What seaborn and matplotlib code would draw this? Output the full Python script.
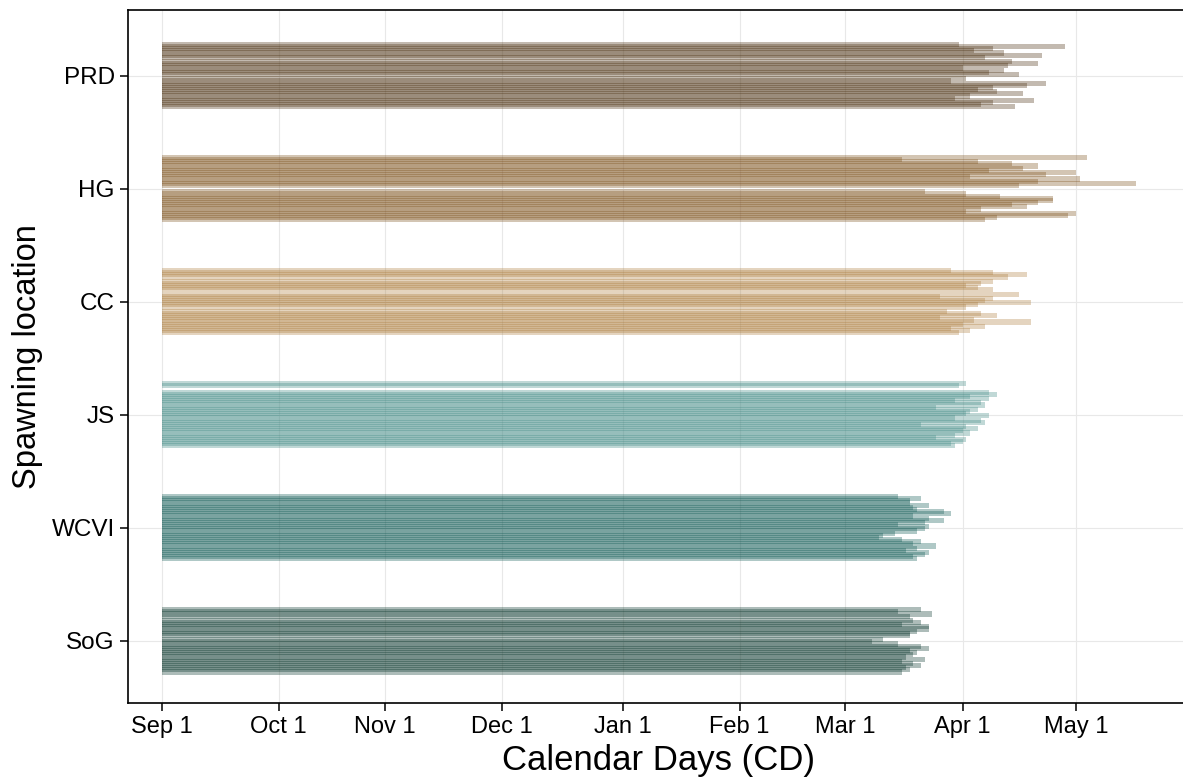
import numpy as np
import pandas as pd
import matplotlib
matplotlib.use("Agg")
import matplotlib.pyplot as plt
import seaborn as sns

nan = np.nan

# Spawning locations (bottom -> top) and their colours
locations = ["SoG", "WCVI", "JS", "CC", "HG", "PRD"]
colors = ["#003c30", "#01665e", "#35978f", "#bf812d", "#8c510a", "#543005"]

# End of each bar, in days after Sep 1 (one value per year; NaN = missing), listed top -> bottom
end_PRD = [211, 239, 220, 215, 223, 233, 218, nan, 225, 232, 224, 212, 223, 219, 227,
           nan, 213, 209, 234, 229, 220, 216, 221, 228, 214, 210, 231, 220, 217, 226]
end_HG = [245, 196, 216, 225, 232, 228, 219, 242, 234, 214, 243, 232, 258, 227, nan,
          nan, 202, 213, 222, 236, 236, 232, 225, 229, 217, 213, 242, 240, 221, 218]
end_CC = [209, 220, 229, 224, nan, 220, 217, 213, 216, 220, nan, 227, 206, 220, 218,
          230, 216, 213, nan, 208, 217, 221, 206, 215, 230, 212, 218, 209, 214, 211]
end_JS = [213, 211, nan, nan, 219, 221, 214, 219, 210, 217, 218, 205, 216, 214, 213,
          219, 210, 217, 218, 201, 213, 216, 212, 214, 210, 205, 213, 212, 209, 210]
end_WCVI = [195, 201, 198, 198, 203, 199, 200, 207, 209, 199, 203, 207, 202, 195, 203,
            202, 200, 194, 191, 190, 196, 201, 199, 205, 200, 197, 203, 202, 199, 200]
end_SoG = [201, 195, 204, 198, nan, 199, 201, 196, 203, 203, 200, 198, 198, nan, 191,
           188, 195, 201, 203, 198, 200, 199, 197, 202, 196, 199, 201, 197, 198, 196]

ends = {"SoG": end_SoG, "WCVI": end_WCVI, "JS": end_JS,
        "CC": end_CC, "HG": end_HG, "PRD": end_PRD}

tick_days = [0, 31, 59, 90, 122, 153, 181, 212, 242]
tick_labels = ["Sep 1", "Oct 1", "Nov 1", "Dec 1", "Jan 1", "Feb 1", "Mar 1", "Apr 1", "May 1"]

# ---- build long table ----
step = 0.019
rows = []
for g, loc in enumerate(locations):
    for i, v in enumerate(ends[loc]):
        if np.isnan(v):
            continue
        rows.append({"loc": loc, "y": round(g + (14.5 - i) * step, 4), "end": v})
df = pd.DataFrame(rows)

sns.set_theme(style="whitegrid")
plt.rcParams["font.family"] = ["Liberation Sans", "DejaVu Sans"]

fig = plt.figure(figsize=(11.83, 7.84), dpi=100)
ax = fig.add_axes([128 / 1183, 81 / 784, (1190 - 128) / 1183, (703 - 10) / 784])

sns.barplot(data=df, x="end", y="y", hue="loc", hue_order=locations,
            palette=dict(zip(locations, colors)), orient="h", native_scale=True,
            dodge=False, width=2.4, alpha=0.33, errorbar=None, legend=False,
            linewidth=0, ax=ax)

ax.set_xlim(-8.9, 272.2)
ax.set_ylim(-0.55, 5.58)
ax.set_yticks(range(len(locations)))
ax.set_yticklabels(locations)
ax.set_xticks(tick_days)
ax.set_xticklabels(tick_labels)

ax.grid(True, color="#e8e8e8", linewidth=0.8)
ax.set_axisbelow(True)
for s in ax.spines.values():
    s.set_color("black")
    s.set_linewidth(1.2)
ax.tick_params(axis="both", which="major", direction="out", length=6, width=1.1,
               color="black", labelsize=17, labelcolor="black", left=True, bottom=True)
ax.tick_params(axis="y", labelsize=17.5)
ax.set_xlabel("Calendar Days (CD)", fontsize=25, color="black", labelpad=4)
ax.set_ylabel("Spawning location", fontsize=23.5, color="black", labelpad=6)

fig.savefig("out.png", dpi=100)
